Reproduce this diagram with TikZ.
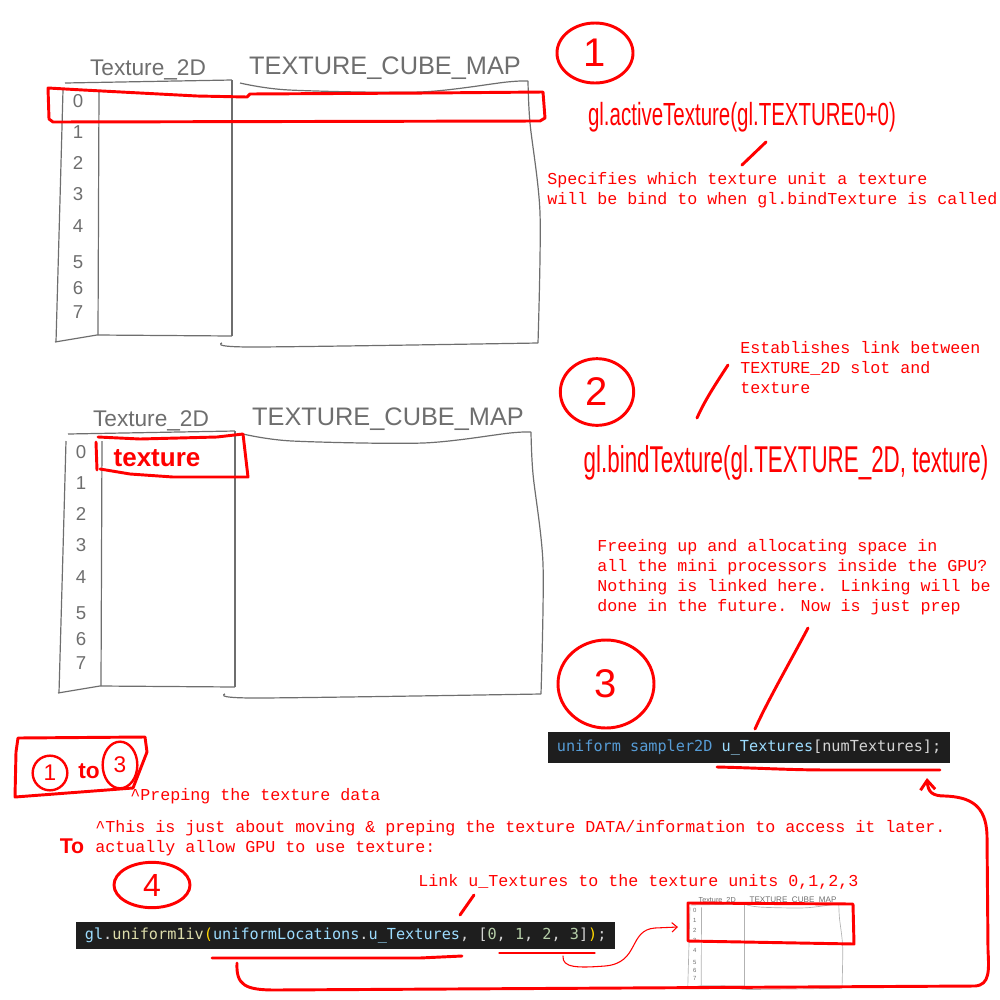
\documentclass[tikz,border=0pt]{standalone}
\usepackage{fontspec}
\usepackage{graphicx}
\setmainfont{Liberation Sans}
\newfontfamily\notefont{Liberation Mono}
\newfontfamily\codefont{DejaVu Sans Mono}
\usetikzlibrary{shapes.geometric,arrows.meta}
\definecolor{codebg}{HTML}{1E1E1E}
\definecolor{codewhite}{HTML}{D4D4D4}
\definecolor{kwblue}{HTML}{569CD6}
\definecolor{varblue}{HTML}{9CDCFE}
\definecolor{fnyellow}{HTML}{DCDCAA}
\definecolor{numgreen}{HTML}{B5CEA8}
\definecolor{brgold}{HTML}{FFD700}
\definecolor{pencilgray}{HTML}{6E6E6E}

\begin{document}
\begin{tikzpicture}[x=0.75pt,y=0.75pt,yscale=-1,xscale=1,
  pencil/.style={draw=pencilgray, line width=0.9pt, line join=round},
  redpen/.style={draw=red, line width=2.2pt, line cap=round, line join=round},
  thinpen/.style={draw=red, line width=0.8pt, line cap=round},
  note/.style={anchor=north west, align=left, inner sep=0pt, text=red, font=\notefont\fontsize{12.5pt}{15pt}\selectfont},
  hand/.style={inner sep=0pt, text=red},
  stepmark/.style={ellipse, draw=red, line width=2.2pt, text=red, inner sep=0pt, font=\fontsize{30pt}{30pt}\selectfont},
  minimark/.style={ellipse, draw=red, line width=1.8pt, text=red, inner sep=0pt, font=\fontsize{17pt}{17pt}\selectfont},
  codebox/.style={anchor=west, fill=codebg, text=codewhite, inner xsep=6.5pt, inner ysep=0pt, font=\codefont\fontsize{11.4pt}{13pt}\selectfont},
  slothead/.style={inner sep=0pt, text=pencilgray},
  slotnum/.style={inner sep=0pt, text=pencilgray, font=\fontsize{14pt}{14pt}\selectfont},
  texslots/.pic={
    %Straight Lines
    \draw [pencil] (2,0) -- (169,3) ;
    \draw [pencil] (0,-7) -- (-3,-117) -- (-7,-259) ;
    \draw [pencil] (36,-7) -- (35,-252) ;
    \draw [pencil] (169,3) -- (169,-253) ;
    \draw [pencil] (-8,-259) -- (34,-252) -- (169,-253) ;
    %Curve Lines
    \draw [pencil] plot [smooth, tension=0.5] coordinates {(177,0) (226,-7) (357,-9) (444,1) (465,2)} ;
    \draw [pencil] plot [smooth, tension=0.5] coordinates {(465,2) (467,-40) (477,-130) (475,-260)} ;
    \draw [pencil] plot [smooth, tension=0.5] coordinates {(159,-260) (190,-264) (475,-260)} ;
    % Text Node
    \node [slothead, font=\fontsize{17pt}{17pt}\selectfont] (-flat) at (85,13) {Texture\_2D};
    % Text Node
    \node [slothead, font=\fontsize{19pt}{19pt}\selectfont] (-cube) at (322,15) {TEXTURE\_CUBE\_MAP};
    \foreach \i/\y in {0/18,1/49,2/80,3/111,4/143,5/179,6/205,7/229}
      \node [slotnum] (-unit\i) at (15,-\y) {\i};
  }]
\useasboundingbox (0,0) rectangle (1000,1000);

%Table slots
\pic (slotsA) at (63,83) {texslots};
\pic (slotsB) at (66,434) {texslots};
\pic [xscale=0.32, yscale=-0.32, transform shape, pencil/.style={draw=gray!60, line width=0.5pt}] (slotsC) at (690,905) {texslots};

%Shape: Polygon
\draw [redpen] (48,88) -- (83,90) -- (197,96) -- (247,97) -- (250,94) -- (427,93) -- (543,92) -- (545,118) -- (540,121) -- (53,122) -- (49,119) -- cycle ;
%Shape: Polygon
\draw [redpen] (96,442) -- (97,470) ;
\draw [redpen] (98,437) -- (140,439) -- (217,437) -- (243,434) -- (248,477) -- (173,477) -- (130,474) -- (100,469) ;
%Shape: Polygon
\draw [redpen] (688,903) -- (853,904) -- (854,944) -- (688,941) -- cycle ;

% Text Node
\node [hand, font=\bfseries\fontsize{19.5pt}{20pt}\selectfont] (texname) at (157,458) {texture};

%Step marks
\node [stepmark, minimum width=57pt, minimum height=45pt] (stepone) at (595,53) {1};
\node [stepmark, minimum width=55pt, minimum height=50pt] (steptwo) at (597,392) {2};
\node [stepmark, minimum width=72pt, minimum height=66pt] (stepthree) at (606,684) {3};
\node [stepmark, minimum width=57pt, minimum height=34pt, font=\fontsize{24pt}{24pt}\selectfont] (stepfour) at (152,885) {4};

% Text Node
\node [hand, font=\fontsize{24pt}{24pt}\selectfont] (activecall) at (742,117) {\scalebox{0.64}[1]{gl.activeTexture(gl.TEXTURE0+0)}};
% Text Node
\node [hand, font=\fontsize{28pt}{28pt}\selectfont] (bindcall) at (786,463) {\scalebox{0.6}[1]{gl.bindTexture(gl.TEXTURE\_2D, texture)}};

% Text Node
\node [note] (specnote) at (547,172) {Specifies which texture unit a texture\\will be bind to when gl.bindTexture is called};
% Text Node
\node [note] (linknote) at (740,341) {Establishes link between\\TEXTURE\_2D slot and\\texture};
% Text Node
\node [note] (freenote) at (597,539) {Freeing up and allocating space in\\all the mini processors inside the GPU?\\Nothing is linked here. Linking will be\\done in the future. Now is just prep};
% Text Node
\node [note] (prepnote) at (130,788) {\textasciicircum Preping the texture data};
% Text Node
\node [note] (movenote) at (95,820) {\textasciicircum This is just about moving \& preping the texture DATA/information to access it later.\\actually allow GPU to use texture:};
% Text Node
\node [note] (unitnote) at (418,874) {Link u\_Textures to the texture units 0,1,2,3};

%One to three mark
\node [minimark, minimum width=26pt, minimum height=26pt] (fromone) at (50,773) {1};
\node [minimark, minimum width=26pt, minimum height=35pt] (tothree) at (120,765) {3};
\node [hand, font=\bfseries\fontsize{17pt}{17pt}\selectfont] (tomid) at (89,771) {to};
\draw [redpen] (18,738) -- (145,737) -- (147,752) -- (133,788) -- (15,797) -- (16,752) -- cycle ;
% Text Node
\node [hand, font=\bfseries\fontsize{16pt}{16pt}\selectfont] (tomark) at (72,846) {To};

%Code boxes
\node [codebox, minimum height=23.25pt] (samplerdecl) at (548,747.5) {\textcolor{kwblue}{uniform sampler2D} \textcolor{varblue}{u\_Textures}[numTextures];};
\node [codebox, minimum height=20pt] (uniformcall) at (76,935.5) {\textcolor{varblue}{gl}.\textcolor{fnyellow}{uniform1iv}\textcolor{brgold}{(}\textcolor{varblue}{uniformLocations}.\textcolor{varblue}{u\_Textures}, [\textcolor{numgreen}{0}, \textcolor{numgreen}{1}, \textcolor{numgreen}{2}, \textcolor{numgreen}{3}]\textcolor{brgold}{)};};

%Straight Lines
\coordinate (acttail) at (766,142);
\coordinate (spechead) at (742,165);
\draw [redpen] (acttail) -- (spechead) ;
%Curve Lines
\coordinate (linktail) at (728,365);
\coordinate (bindhead) at (697,418);
\draw [redpen] (linktail) .. controls (715,385) and (705,400) .. (bindhead) ;
%Curve Lines
\coordinate (freetail) at (808,628);
\coordinate (declhead) at (755,729);
\draw [redpen] (freetail) .. controls (790,662) and (767,702) .. (declhead) ;
%Straight Lines
\coordinate (unittail) at (474,895);
\coordinate (callhead) at (460,915);
\draw [redpen] (unittail) -- (callhead) ;

%Underlines
\draw [redpen] (717,767) .. controls (760,768) and (790,770) .. (830,770) -- (940,770) ;
\draw [redpen] (212,958) -- (420,958) -- (462,956) ;
\draw [thinpen] (499,953) -- (595,953) ;

%Curve Lines
\coordinate (unitsfrom) at (563,956);
\coordinate (unitsto) at (678,927);
\draw [thinpen, -{Straight Barb[length=4pt, width=7pt]}] (unitsfrom) .. controls (562,968) and (578,968) .. (605,966) .. controls (640,963) and (628,930) .. (655,928) -- (unitsto) ;
%Curve Lines
\coordinate (loopstart) at (237,963);
\coordinate (looptip) at (927,778);
\draw [redpen, -{Straight Barb[length=7pt, width=11pt]}] (loopstart) .. controls (236,985) and (245,990) .. (275,990) -- (975,986) .. controls (990,985) and (989,970) .. (988,950) -- (987,835) .. controls (986,805) and (970,797) .. (945,796) .. controls (932,796) and (928,792) .. (looptip) ;

\end{tikzpicture}
\end{document}
